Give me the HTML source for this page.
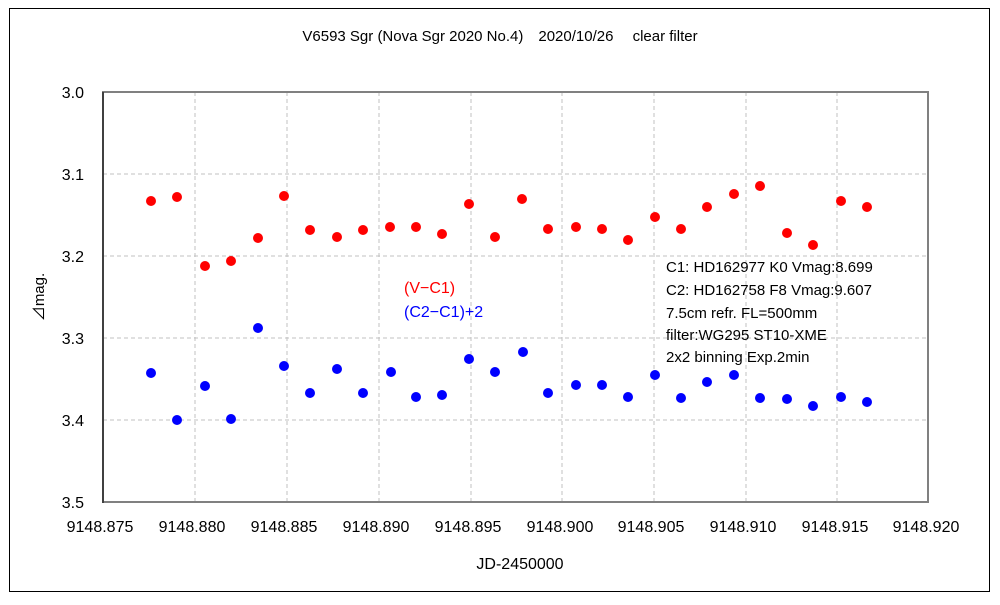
<!DOCTYPE html>
<html><head><meta charset="utf-8"><style>
body{margin:0;background:#fff;}
svg text{font-family:"Liberation Sans","Noto Sans CJK JP",sans-serif;}
</style></head><body>
<svg width="1000" height="600" xmlns="http://www.w3.org/2000/svg">
<rect x="0" y="0" width="1000" height="600" fill="#fff"/>
<rect x="9.5" y="8.5" width="980" height="583" fill="none" stroke="#000" stroke-width="1"/>
<text x="500" y="41" font-size="15" text-anchor="middle" fill="#000">V6593 Sgr (Nova Sgr 2020 No.4)　2020/10/26　 clear filter</text>
<g stroke="#c0c0c0" stroke-dasharray="4,3" stroke-width="1">
<line x1="195" y1="92" x2="195" y2="502"/><line x1="287" y1="92" x2="287" y2="502"/>
<line x1="379" y1="92" x2="379" y2="502"/><line x1="471" y1="92" x2="471" y2="502"/>
<line x1="562" y1="92" x2="562" y2="502"/><line x1="654" y1="92" x2="654" y2="502"/>
<line x1="746" y1="92" x2="746" y2="502"/><line x1="837" y1="92" x2="837" y2="502"/>
<line x1="103" y1="174" x2="928" y2="174"/><line x1="103" y1="256" x2="928" y2="256"/>
<line x1="103" y1="338" x2="928" y2="338"/><line x1="103" y1="420" x2="928" y2="420"/>
</g>
<rect x="103" y="92" width="825" height="410" fill="none" stroke="#808080" stroke-width="2"/>
<line x1="103" y1="92" x2="103" y2="503" stroke="#000" stroke-width="1"/>
<g font-size="16" text-anchor="end" fill="#000">
<text x="84" y="98">3.0</text><text x="84" y="180">3.1</text><text x="84" y="262">3.2</text>
<text x="84" y="344">3.3</text><text x="84" y="426">3.4</text><text x="84" y="508">3.5</text>
</g>
<g font-size="16" text-anchor="middle" fill="#000">
<text x="100" y="532">9148.875</text><text x="192" y="532">9148.880</text><text x="284" y="532">9148.885</text>
<text x="376" y="532">9148.890</text><text x="468" y="532">9148.895</text><text x="560" y="532">9148.900</text>
<text x="651" y="532">9148.905</text><text x="743" y="532">9148.910</text><text x="835" y="532">9148.915</text>
<text x="926" y="532">9148.920</text>
</g>
<text x="520" y="569" font-size="16" text-anchor="middle">JD-2450000</text>
<text x="44" y="297" font-size="15" text-anchor="middle" transform="rotate(-90 44 297)">⊿mag.</text>
<g fill="#ff0000">
<circle cx="151" cy="201" r="5"/><circle cx="177" cy="197" r="5"/><circle cx="205" cy="266" r="5"/>
<circle cx="231" cy="261" r="5"/><circle cx="258" cy="238" r="5"/><circle cx="284" cy="196" r="5"/>
<circle cx="310" cy="230" r="5"/><circle cx="337" cy="237" r="5"/><circle cx="363" cy="230" r="5"/>
<circle cx="390" cy="227" r="5"/><circle cx="416" cy="227" r="5"/><circle cx="442" cy="234" r="5"/>
<circle cx="469" cy="204" r="5"/><circle cx="495" cy="237" r="5"/><circle cx="522" cy="199" r="5"/>
<circle cx="548" cy="229" r="5"/><circle cx="576" cy="227" r="5"/><circle cx="602" cy="229" r="5"/>
<circle cx="628" cy="240" r="5"/><circle cx="655" cy="217" r="5"/><circle cx="681" cy="229" r="5"/>
<circle cx="707" cy="207" r="5"/><circle cx="734" cy="194" r="5"/><circle cx="760" cy="186" r="5"/>
<circle cx="787" cy="233" r="5"/><circle cx="813" cy="245" r="5"/><circle cx="841" cy="201" r="5"/>
<circle cx="867" cy="207" r="5"/>
</g>
<g fill="#0000ff">
<circle cx="151" cy="373" r="5"/><circle cx="177" cy="420" r="5"/><circle cx="205" cy="386" r="5"/>
<circle cx="231" cy="419" r="5"/><circle cx="258" cy="328" r="5"/><circle cx="284" cy="366" r="5"/>
<circle cx="310" cy="393" r="5"/><circle cx="337" cy="369" r="5"/><circle cx="363" cy="393" r="5"/>
<circle cx="391" cy="372" r="5"/><circle cx="416" cy="397" r="5"/><circle cx="442" cy="395" r="5"/>
<circle cx="469" cy="359" r="5"/><circle cx="495" cy="372" r="5"/><circle cx="523" cy="352" r="5"/>
<circle cx="548" cy="393" r="5"/><circle cx="576" cy="385" r="5"/><circle cx="602" cy="385" r="5"/>
<circle cx="628" cy="397" r="5"/><circle cx="655" cy="375" r="5"/><circle cx="681" cy="398" r="5"/>
<circle cx="707" cy="382" r="5"/><circle cx="734" cy="375" r="5"/><circle cx="760" cy="398" r="5"/>
<circle cx="787" cy="399" r="5"/><circle cx="813" cy="406" r="5"/><circle cx="841" cy="397" r="5"/>
<circle cx="867" cy="402" r="5"/>
</g>
<text x="404" y="293" font-size="16" fill="#ff0000">(V−C1)</text>
<text x="404" y="317" font-size="16" fill="#0000ff">(C2−C1)+2</text>
<g font-size="15" fill="#000">
<text x="666" y="272">C1: HD162977 K0 Vmag:8.699</text>
<text x="666" y="295">C2: HD162758 F8 Vmag:9.607</text>
<text x="666" y="318">7.5cm refr. FL=500mm</text>
<text x="666" y="340">filter:WG295  ST10-XME</text>
<text x="666" y="362">2x2 binning  Exp.2min</text>
</g>
</svg>
</body></html>
